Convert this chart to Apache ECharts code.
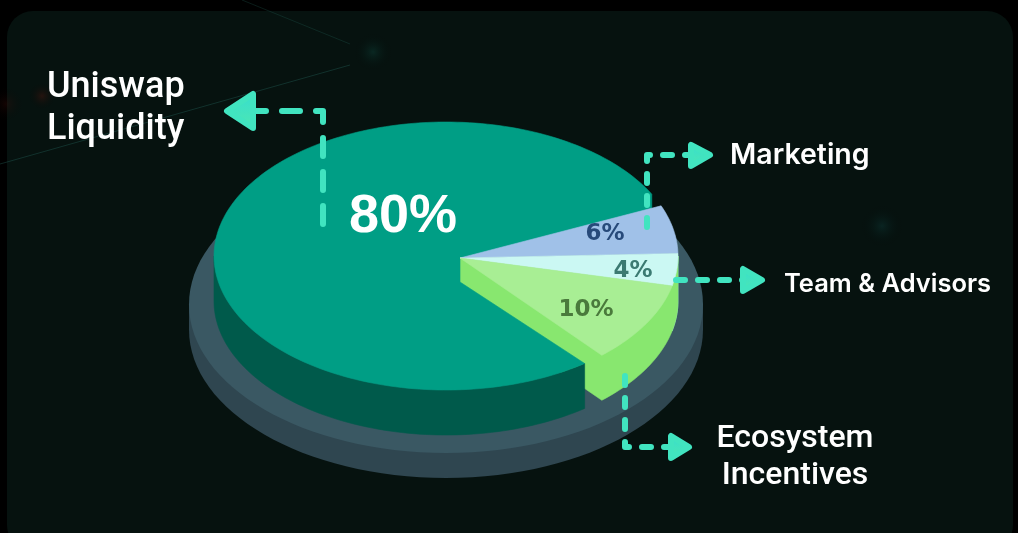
<!DOCTYPE html>
<html>
<head>
<meta charset="utf-8">
<style>
  html, body { margin: 0; padding: 0; background: #000; }
  #chart { width: 1018px; height: 533px; }
</style>
<script src="https://cdn.jsdelivr.net/npm/echarts@6/dist/echarts.min.js"></script>
</head>
<body>
<div id="chart"></div>
<script>
// Token allocation shares
const categories = ['Uniswap Liquidity', 'Marketing', 'Team & Advisors', 'Ecosystem Incentives'];
const shares = [80, 6, 4, 10];
const shareLabels = ['80%', '6%', '4%', '10%'];

// Projected disc geometry
const disc = { cx: 446, cy: 256, rx: 232, ry: 134, depth: 45 };
const apex = { x: 460, y: 258 };
const notch = { x: 460, y: 282 };
const plinth = { cx: 446, cy: 304.5, rx: 257, ry: 148.5, depth: 25 };

// Palette
const topColors = ['#009e85', '#a0c1e8', '#cbf8f3', '#a8ee94'];
const wallColors = ['#005a4b', '#a0c1e8', '#98eddd', '#88e76f'];
const labelColors = ['#ffffff', '#274a7a', '#3b7a72', '#4a7a3c'];
const arrowColor = '#41e4c0';

// Angles run counter-clockwise from the right; the pie leaves a small
// opening on either side of the teal slice.
const startAngle = 22;
const openingDeg = 5.5;
const total = shares.reduce((a, b) => a + b, 0);
const degPerUnit = (360 - 2 * openingDeg) / total;

// Small slices run clockwise from startAngle; the large slice takes the rest.
function sliceAngles(i) {
  if (i === 0) {
    return [startAngle + openingDeg, startAngle + openingDeg + shares[0] * degPerUnit];
  }
  let a = startAngle;
  for (let k = 1; k < i; k++) a -= shares[k] * degPerUnit;
  return [a, a - shares[i] * degPerUnit];
}

function rim(e, deg, drop) {
  const t = deg * Math.PI / 180;
  return [e.cx + e.rx * Math.cos(t), e.cy - e.ry * Math.sin(t) + (drop || 0)];
}

function arc(e, from, to, drop) {
  const n = Math.max(2, Math.ceil(Math.abs(to - from) / 1.5));
  const pts = [];
  for (let j = 0; j <= n; j++) pts.push(rim(e, from + (to - from) * j / n, drop));
  return pts;
}

function poly(points, fill, z2) {
  return {
    type: 'polygon', z2: z2,
    shape: { points: points },
    style: { fill: fill, stroke: fill, lineWidth: 0.6 }
  };
}

function renderTop(params, api) {
  const i = params.dataIndex;
  const a = sliceAngles(i);
  if (i === 0) {
    const s = rim(disc, a[0]);
    return poly(
      arc(disc, a[0], a[1]).concat([[notch.x, notch.y], [apex.x, apex.y], [s[0], s[1] + disc.depth / 2]]),
      topColors[i], 1
    );
  }
  return poly([[apex.x, apex.y]].concat(arc(disc, a[0], a[1])), topColors[i], 2);
}

function renderWall(params, api) {
  const i = params.dataIndex;
  const a = sliceAngles(i);
  const d = disc.depth;
  if (i === 0) {
    return poly(arc(disc, 180, a[1]).concat(arc(disc, a[1], 180, d)), wallColors[0], 4);
  }
  if (a[0] > 0 && a[1] > 0) return { type: 'group', children: [] };
  const upper = Math.min(a[0], 0);
  if (i === shares.length - 1) {
    // Cut face and outer wall of the last slice, reaching round to the disc's right edge
    return poly(
      [[apex.x, apex.y + d]].concat(arc(disc, a[1], 0, d), arc(disc, 0, a[0]), [[apex.x, apex.y]]),
      wallColors[i], 3
    );
  }
  return poly(arc(disc, upper, a[1]).concat(arc(disc, a[1], upper, d)), wallColors[i], 2);
}

function renderLabel(params, api) {
  const i = params.dataIndex;
  const a = sliceAngles(i);
  const mid = (a[0] + a[1]) / 2;
  const reach = [0, 0.7, 0.81, 0.7][i];
  const nudge = [0, -3, 4, 7][i];
  const p = rim({ cx: disc.cx, cy: disc.cy, rx: disc.rx * reach, ry: disc.ry * reach }, mid, nudge);
  const at = i === 0 ? [403, 217] : p;
  return {
    type: 'text', z2: 5,
    x: at[0], y: at[1],
    style: {
      text: shareLabels[i],
      fill: labelColors[i],
      align: 'center', verticalAlign: 'middle',
      font: i === 0 ? 'bold 54px "Liberation Sans", sans-serif' : 'bold 23px "DejaVu Sans", sans-serif'
    }
  };
}

const sliceData = shares.map((v, i) => ({ name: categories[i], value: v }));

// Dashed leader with a rounded arrow head
function leader(points, dash, head) {
  return [
    {
      type: 'polyline', z: 8,
      shape: { points: points },
      style: { stroke: arrowColor, lineWidth: 6, lineDash: dash, lineCap: 'round', lineJoin: 'round', fill: null }
    },
    {
      type: 'polygon', z: 8,
      shape: { points: head },
      style: {
        fill: {
          type: 'linear', x: 0, y: 0, x2: 0, y2: 1,
          colorStops: [{ offset: 0, color: '#36ddd0' }, { offset: 1, color: '#4ee8b0' }]
        },
        stroke: arrowColor, lineWidth: 6, lineJoin: 'round'
      }
    }
  ];
}

function caption(text, x, y, font, lineHeight, align) {
  return {
    type: 'text', z: 9, x: x, y: y,
    style: { text: text, fill: '#ffffff', font: font, align: align || 'left', verticalAlign: 'middle', lineHeight: lineHeight }
  };
}

function glow(x, y, r, color) {
  return {
    type: 'circle', z: 0,
    shape: { cx: x, cy: y, r: r },
    style: {
      fill: {
        type: 'radial', x: 0.5, y: 0.5, r: 0.5,
        colorStops: [{ offset: 0, color: color }, { offset: 1, color: 'rgba(0,0,0,0)' }]
      }
    }
  };
}

function ring(e, fill, drop, z) {
  return {
    type: 'ellipse', z: z,
    shape: { cx: e.cx, cy: e.cy + drop, rx: e.rx, ry: e.ry },
    style: { fill: fill }
  };
}

const chart = echarts.init(document.getElementById('chart'), null, { renderer: 'canvas' });
chart.setOption({
  backgroundColor: '#000000',
  animation: false,
  graphic: [
    { type: 'rect', z: 0, shape: { x: 7, y: 11, width: 1006, height: 540, r: 26 }, style: { fill: '#06120f' } },
    glow(373, 52, 20, 'rgba(16,80,70,0.35)'),
    glow(882, 226, 22, 'rgba(16,70,68,0.35)'),
    glow(42, 96, 14, 'rgba(110,24,14,0.3)'),
    glow(6, 104, 18, 'rgba(90,18,12,0.22)'),
    { type: 'line', z: 0, shape: { x1: 0, y1: 164, x2: 350, y2: 65 }, style: { stroke: 'rgba(40,110,100,0.35)', lineWidth: 1 } },
    { type: 'line', z: 0, shape: { x1: 242, y1: 0, x2: 350, y2: 44 }, style: { stroke: 'rgba(40,110,100,0.25)', lineWidth: 1 } },
    // Plinth under the pie
    ring(plinth, '#2f4650', plinth.depth, 1),
    { type: 'rect', z: 1, shape: { x: plinth.cx - plinth.rx, y: plinth.cy, width: plinth.rx * 2, height: plinth.depth }, style: { fill: '#2f4650' } },
    ring(plinth, '#3a5863', 0, 1),
    // Leaders
    ...leader([[323, 224], [323, 111], [250, 111]], [18, 16],
      [[227, 111], [253, 94], [253, 128]]),
    ...leader([[647, 227], [647, 155], [694, 155]], [9, 13],
      [[710, 155], [691, 145], [691, 166]]),
    ...leader([[676, 280], [745, 280]], [9, 13],
      [[762, 280], [743, 269], [743, 291]]),
    ...leader([[625, 376], [625, 447], [672, 447]], [9, 13],
      [[689, 447], [671, 436], [671, 458]]),
    // Captions
    caption('Uniswap\nLiquidity', 47, 109, '500 36px Roboto, sans-serif', 42),
    caption('Marketing', 730, 155, '600 28.5px Inter, sans-serif', 34),
    caption('Team & Advisors', 784, 284, '600 25.5px Inter, sans-serif', 30),
    caption('Ecosystem\nIncentives', 795, 457, '500 32px Roboto, sans-serif', 37, 'center')
  ],
  series: [
    { type: 'custom', coordinateSystem: 'none', name: 'walls', z: 2, silent: true, renderItem: renderWall, data: sliceData },
    { type: 'custom', coordinateSystem: 'none', name: 'tops', z: 3, silent: true, renderItem: renderTop, data: sliceData },
    { type: 'custom', coordinateSystem: 'none', name: 'shares', z: 4, silent: true, renderItem: renderLabel, data: sliceData }
  ]
});
</script>
</body>
</html>
